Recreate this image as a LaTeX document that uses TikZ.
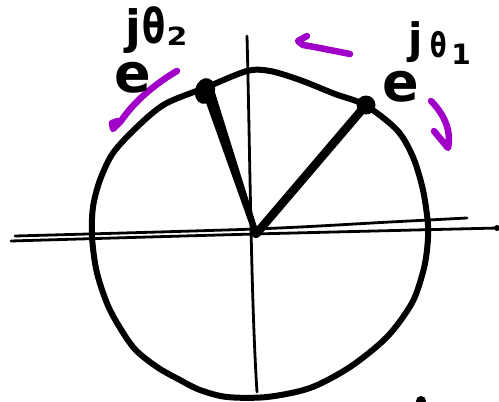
\documentclass[tikz,border=0pt]{standalone}
\usepackage{fontspec}
\setmainfont{DejaVu Sans}
\definecolor{pen}{RGB}{160,0,200}
\begin{document}
\begin{tikzpicture}[x=1pt,y=-1pt, line cap=round, line join=round,
  axisline/.style={line width=2.8pt},
  rim/.style={line width=6pt},
  spoke/.style={line width=8.5pt},
  penstroke/.style={pen, line width=6.5pt},
  glyph/.style={inner sep=0pt, text=black}]
\useasboundingbox (0,0) rectangle (499,402);
% axes
\coordinate (ytop) at (247,36);
\coordinate (ybot) at (257,392);
\draw[axisline] (ytop) .. controls (250,150) and (251,300) .. (ybot);
\draw[axisline] plot[smooth] coordinates {(15,236) (255,229) (390,222) (467,218)};
\draw[axisline] plot[smooth] coordinates {(11,241) (255,234) (498,228)};
\fill (497,228) circle (3);
% circle
\draw[rim] plot[smooth cycle, tension=0.5] coordinates {
 (207,87) (247,71) (270,71) (300,80) (335,94) (365,105)
 (397,130) (413,157) (423,190) (428,225) (427,250) (423,272) (412,303)
 (387,337) (350,367) (310,388) (267,397) (227,397) (200,390) (180,380)
 (157,367) (133,347) (110,310) (97,273) (92,237) (93,207) (100,180)
 (113,153) (137,127) (165,104)};
% spokes
\coordinate (O) at (256,234);
\coordinate (P1) at (366,105);
\coordinate (P2) at (205,91);
\coordinate (P2r) at (212,93);
\draw[spoke] (O) -- (P1);
\draw[line width=6pt] (O) -- (P2);
\draw[line width=6pt] (O) -- (P2r);
\fill (P1) circle (9.5);
\fill[rotate around={-15:(P2)}] (P2) ellipse [x radius=10, y radius=13];
% bottom dot
\fill (421,401) circle (5);
% purple strokes
\draw[penstroke] (350,54) .. controls (330,50) and (315,47) .. (303,45) -- (298,41) -- (307,36);
\draw[penstroke] (431,101) .. controls (443,113) and (452,130) .. (448,148) -- (434,131);
\draw[penstroke] (177,71) .. controls (158,82) and (135,100) .. (121,121) -- (113,129) -- (112,123) -- (118,121);
% labels
\node[glyph, font=\bfseries\fontsize{54}{54}\selectfont] (e2) at (133,78) {e};
\node[glyph, font=\bfseries\fontsize{46}{46}\selectfont] (j2) at (133,31) {j};
\node[glyph, font=\bfseries\fontsize{48}{48}\selectfont, xscale=0.7] (t2) at (154,25) {θ};
\node[glyph, font=\bfseries\fontsize{25}{25}\selectfont, xscale=1.2] (n2) at (177,36) {2};
\node[glyph, font=\bfseries\fontsize{54}{54}\selectfont] (e1) at (401,87) {e};
\node[glyph, font=\bfseries\fontsize{42}{42}\selectfont] (j1) at (416,42) {j};
\node[glyph, font=\bfseries\fontsize{34}{34}\selectfont, xscale=0.7] (t1) at (439,45) {θ};
\node[glyph, font=\bfseries\fontsize{28}{28}\selectfont] (n1) at (461,54) {1};
\end{tikzpicture}
\end{document}
